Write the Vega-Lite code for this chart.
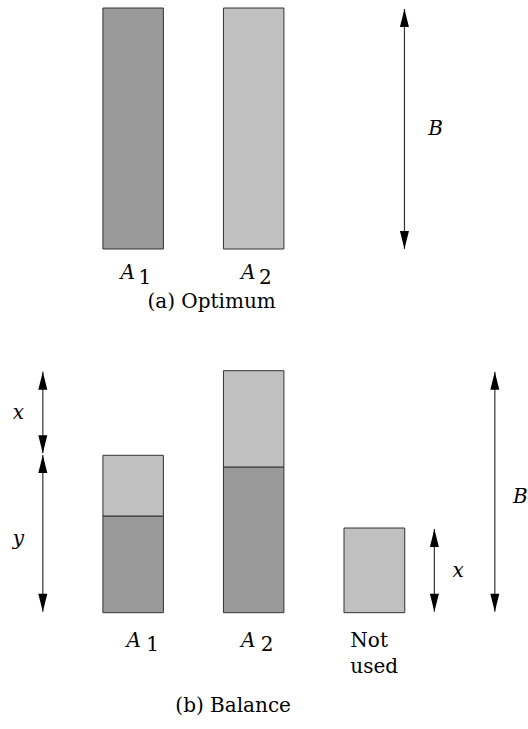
{
  "$schema": "https://vega.github.io/schema/vega-lite/v6.json",
  "width": 528,
  "height": 729,
  "padding": 0,
  "autosize": {"type": "fit", "contains": "padding"},
  "config": {"view": {"stroke": null}, "font": "DejaVu Serif"},
  "datasets": {
    "bars": [
      {"x": 103.3, "x2": 164, "y": 8, "y2": 249, "part": "dark"},
      {"x": 224.3, "x2": 285, "y": 8, "y2": 249, "part": "light"},
      {"x": 103.3, "x2": 164, "y": 516, "y2": 612.7, "part": "dark"},
      {"x": 103.3, "x2": 164, "y": 455.3, "y2": 516, "part": "light"},
      {"x": 224.3, "x2": 285, "y": 467, "y2": 612.7, "part": "dark"},
      {"x": 224.3, "x2": 285, "y": 370.7, "y2": 467, "part": "light"},
      {"x": 345.3, "x2": 406.3, "y": 528, "y2": 612.7, "part": "light"}
    ],
    "arrows": [
      {"x": 406, "y": 9, "y2": 249},
      {"x": 43, "y": 371.7, "y2": 453.3},
      {"x": 43, "y": 455, "y2": 611.7},
      {"x": 436, "y": 529, "y2": 611.7},
      {"x": 496.7, "y": 371.7, "y2": 611.7}
    ],
    "italic": [
      {"x": 121, "y": 279, "t": "A"},
      {"x": 242, "y": 279, "t": "A"},
      {"x": 430, "y": 135, "t": "B"},
      {"x": 127, "y": 646.7, "t": "A"},
      {"x": 242, "y": 646.7, "t": "A"},
      {"x": 12.7, "y": 419, "t": "x"},
      {"x": 12.7, "y": 545, "t": "y"},
      {"x": 454.3, "y": 577, "t": "x"},
      {"x": 515, "y": 503, "t": "B"}
    ],
    "roman": [
      {"x": 139, "y": 284, "t": "1"},
      {"x": 260, "y": 284, "t": "2"},
      {"x": 148, "y": 308, "t": "(a) Optimum"},
      {"x": 146.7, "y": 651, "t": "1"},
      {"x": 261.7, "y": 651, "t": "2"},
      {"x": 351.7, "y": 647, "t": "Not"},
      {"x": 351.7, "y": 672.7, "t": "used"},
      {"x": 176, "y": 712, "t": "(b) Balance"}
    ]
  },
  "layer": [
    {
      "data": {"name": "bars"},
      "mark": {"type": "rect", "stroke": "#333333", "strokeWidth": 1},
      "encoding": {
        "x": {"field": "x", "type": "quantitative", "scale": {"domain": [0, 528], "nice": false, "zero": false}, "axis": null},
        "x2": {"field": "x2"},
        "y": {"field": "y", "type": "quantitative", "scale": {"domain": [0, 729], "nice": false, "zero": false, "reverse": true}, "axis": null},
        "y2": {"field": "y2"},
        "color": {"field": "part", "type": "nominal", "scale": {"domain": ["dark", "light"], "range": ["#9a9a9a", "#c0c0c0"]}, "legend": null}
      }
    },
    {
      "data": {"name": "arrows"},
      "mark": {"type": "rule", "color": "#333333", "strokeWidth": 1.2},
      "encoding": {
        "x": {"field": "x", "type": "quantitative"},
        "y": {"field": "y", "type": "quantitative"},
        "y2": {"field": "y2"}
      }
    },
    {
      "data": {"name": "arrows"},
      "mark": {"type": "point", "shape": "M0,0L-0.5,2L0.5,2Z", "filled": true, "color": "#000000", "opacity": 1, "size": 324, "strokeWidth": 0},
      "encoding": {
        "x": {"field": "x", "type": "quantitative"},
        "y": {"field": "y", "type": "quantitative"}
      }
    },
    {
      "data": {"name": "arrows"},
      "mark": {"type": "point", "shape": "M0,0L-0.5,-2L0.5,-2Z", "filled": true, "color": "#000000", "opacity": 1, "size": 324, "strokeWidth": 0},
      "encoding": {
        "x": {"field": "x", "type": "quantitative"},
        "y": {"field": "y2", "type": "quantitative"}
      }
    },
    {
      "data": {"name": "italic"},
      "mark": {"type": "text", "font": "DejaVu Serif", "fontStyle": "italic", "fontSize": 20, "align": "left", "baseline": "alphabetic", "color": "#000000"},
      "encoding": {
        "x": {"field": "x", "type": "quantitative"},
        "y": {"field": "y", "type": "quantitative"},
        "text": {"field": "t"}
      }
    },
    {
      "data": {"name": "roman"},
      "mark": {"type": "text", "font": "DejaVu Serif", "fontSize": 20, "align": "left", "baseline": "alphabetic", "color": "#000000"},
      "encoding": {
        "x": {"field": "x", "type": "quantitative"},
        "y": {"field": "y", "type": "quantitative"},
        "text": {"field": "t"}
      }
    }
  ]
}
